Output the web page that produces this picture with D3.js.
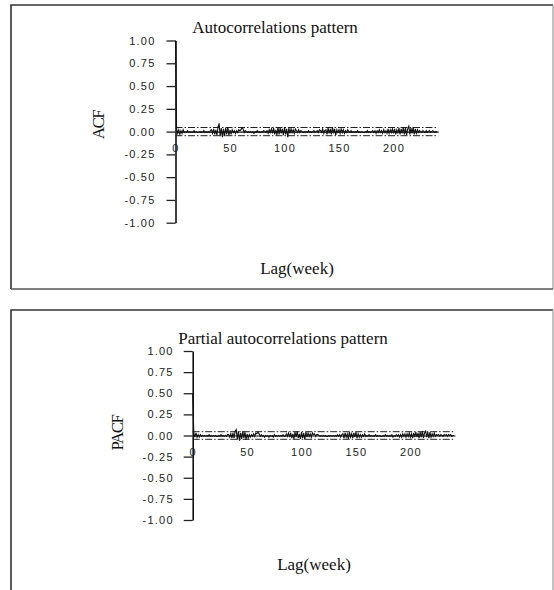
<!DOCTYPE html>
<html>
<head>
<meta charset="utf-8">
<script src="https://cdn.jsdelivr.net/npm/d3@7"></script>
<style>
  html, body { margin: 0; padding: 0; background: #fff; }
  svg { display: block; }
  .tick text { font-family: "Liberation Sans", Arial, sans-serif; font-size: 11px; fill: #222; letter-spacing: 1.2px; }
  .lbl { font-family: "Liberation Serif", "Times New Roman", serif; font-size: 17px; fill: #111; }
</style>
</head>
<body>
<svg id="chart" width="554" height="590"></svg>
<script>
// Autocorrelation values, lags 0..240
const acf = [
  1.00, 0.03, -0.02, 0.02, -0.03, 0.01, -0.02, 0.02, -0.01, 0.00,
  -0.01, 0.01, -0.01, 0.00, -0.01, 0.00, -0.01, 0.01, -0.01, 0.00,
  -0.01, -0.01, 0.00, -0.01, 0.00, -0.01, 0.01, -0.01, 0.00, -0.01,
  0.00, -0.01, 0.01, 0.02, -0.02, 0.03, -0.03, 0.02, -0.04, 0.05,
  0.09, -0.05, 0.04, -0.06, 0.03, -0.05, 0.04, -0.03, 0.05, -0.04,
  0.02, -0.03, 0.02, -0.01, 0.01, -0.02, 0.01, -0.01, 0.02, 0.01,
  0.02, 0.04, 0.03, -0.01, 0.01, 0.00, -0.01, 0.00, -0.01, 0.00,
  -0.01, 0.00, -0.02, 0.00, -0.01, 0.01, -0.01, 0.00, -0.01, 0.00,
  -0.01, 0.01, 0.00, -0.01, 0.01, -0.02, 0.02, -0.01, 0.03, -0.02,
  0.04, -0.03, 0.02, -0.04, 0.05, -0.03, 0.04, -0.02, 0.03, -0.04,
  0.05, -0.03, 0.03, -0.06, 0.04, -0.02, 0.03, -0.01, 0.02, -0.02,
  0.03, 0.01, -0.01, 0.02, -0.01, 0.01, 0.00, -0.01, 0.00, -0.01,
  0.00, -0.01, 0.01, -0.01, 0.00, -0.01, 0.00, 0.01, -0.01, 0.00,
  0.01, -0.01, 0.02, 0.01, -0.01, 0.03, -0.02, 0.01, 0.02, -0.03,
  0.04, -0.02, 0.03, -0.03, 0.05, -0.02, 0.03, -0.04, 0.02, -0.01,
  0.02, -0.02, 0.03, -0.01, 0.02, -0.02, 0.01, -0.01, 0.02, 0.00,
  -0.01, 0.01, -0.01, 0.00, -0.01, 0.00, -0.01, 0.01, -0.01, 0.00,
  -0.01, 0.00, -0.01, -0.01, 0.00, -0.01, 0.01, -0.01, 0.00, -0.01,
  0.00, 0.01, -0.01, 0.01, -0.02, 0.01, -0.01, 0.02, -0.01, 0.01,
  -0.02, 0.02, -0.01, 0.01, -0.02, 0.03, -0.02, 0.02, -0.01, 0.03,
  -0.02, 0.03, -0.03, 0.02, -0.02, 0.04, -0.03, 0.03, -0.02, 0.05,
  -0.03, 0.04, -0.04, 0.03, 0.06, -0.03, 0.04, -0.02, 0.05, -0.03,
  0.03, -0.02, 0.02, -0.01, 0.01, 0.00, -0.01, 0.01, 0.00, -0.01,
  0.01, -0.01, 0.00, 0.01, -0.01, 0.00, 0.01, 0.00, -0.01, 0.00,
  0.00
];

// Partial autocorrelation values, lags 0..240
const pacf = [
  0.50, 0.03, -0.02, 0.03, -0.02, 0.01, -0.02, 0.01, -0.01, 0.00,
  -0.01, 0.00, -0.01, 0.00, -0.01, 0.01, -0.01, 0.00, -0.01, 0.00,
  -0.01, 0.00, -0.01, -0.01, 0.00, -0.01, 0.01, -0.01, 0.00, -0.01,
  0.00, -0.01, 0.01, 0.01, -0.02, 0.02, -0.03, 0.03, -0.03, 0.05,
  0.07, -0.05, 0.05, -0.06, 0.03, -0.04, 0.05, -0.03, 0.04, -0.05,
  0.02, -0.03, 0.01, -0.02, 0.01, -0.01, 0.02, -0.01, 0.03, 0.02,
  0.04, 0.02, -0.01, 0.01, -0.01, 0.00, -0.02, 0.00, -0.01, 0.00,
  -0.02, 0.00, -0.01, 0.00, -0.02, 0.01, -0.01, 0.00, -0.01, 0.00,
  -0.01, 0.00, -0.01, 0.01, -0.01, -0.01, 0.02, -0.01, 0.03, -0.02,
  0.03, -0.03, 0.02, -0.04, 0.04, -0.02, 0.05, -0.03, 0.02, -0.04,
  0.04, -0.03, 0.03, -0.05, 0.04, -0.02, 0.03, -0.01, 0.02, -0.02,
  0.03, 0.01, 0.02, -0.01, 0.01, 0.01, 0.00, -0.01, 0.00, -0.01,
  0.00, -0.01, 0.00, -0.01, -0.01, 0.00, -0.01, 0.00, -0.01, 0.00,
  -0.01, 0.00, -0.01, 0.01, -0.01, 0.01, -0.02, 0.01, 0.02, -0.03,
  0.03, -0.02, 0.02, -0.04, 0.04, -0.02, 0.02, -0.03, 0.03, -0.02,
  0.04, -0.03, 0.02, -0.02, 0.01, -0.02, 0.01, -0.01, 0.02, -0.01,
  0.00, -0.01, 0.01, -0.01, 0.00, -0.01, 0.00, -0.01, 0.01, -0.01,
  0.00, -0.01, 0.00, -0.01, -0.01, 0.00, -0.01, 0.01, -0.01, 0.00,
  -0.01, 0.00, -0.01, 0.01, -0.02, 0.00, -0.01, 0.01, -0.01, 0.01,
  -0.02, 0.01, -0.02, 0.02, -0.01, 0.02, -0.02, 0.02, -0.01, 0.03,
  -0.02, 0.02, -0.03, 0.03, -0.02, 0.04, -0.02, 0.03, -0.03, 0.04,
  -0.02, 0.05, -0.03, 0.03, 0.05, -0.02, 0.04, -0.03, 0.04, -0.02,
  0.02, -0.01, 0.03, -0.01, 0.01, 0.00, 0.01, -0.01, 0.01, 0.00,
  -0.01, 0.01, 0.00, 0.01, -0.01, 0.01, 0.00, 0.01, -0.01, 0.00,
  0.00
];

const yTickValues = [1, 0.75, 0.5, 0.25, 0, -0.25, -0.5, -0.75, -1];
const xTickValues = [0, 50, 100, 150, 200];
const confBound = 0.045;   // approximate 95% significance limit
const maxLag = 241;

// fixed two decimals with a plain hyphen for negatives
const fmt2 = d => d.toFixed(2);

const svg = d3.select("#chart");

// Panel definitions: frame, plot geometry and text placement
const panels = [
  {
    values: acf, title: "Autocorrelations pattern", yLabel: "ACF",
    frame: {x: 11, y: 5, w: 542, h: 284},
    x0: 175.5, x1: 438.2, yTop: 40.5, yBot: 222.7,
    titlePos: [275, 33], yLabelPos: [98, 125], xLabelPos: [297, 274],
    tickPad: 11
  },
  {
    values: pacf, title: "Partial autocorrelations pattern", yLabel: "PACF",
    frame: {x: 11, y: 310, w: 542, h: 300},
    x0: 192.7, x1: 455.0, yTop: 351, yBot: 520,
    titlePos: [283, 344], yLabelPos: [117, 433], xLabelPos: [314, 570],
    tickPad: 10
  }
];

panels.forEach(p => {
  const g = svg.append("g");

  // frame around the panel (right edge drawn lighter)
  const f = p.frame;
  g.append("path")
    .attr("d", `M${f.x},${f.y + f.h}V${f.y}H${f.x + f.w}`)
    .attr("fill", "none").attr("stroke", "#333").attr("stroke-width", 1.6);
  g.append("path")
    .attr("d", `M${f.x + f.w},${f.y}V${f.y + f.h}`)
    .attr("fill", "none").attr("stroke", "#999").attr("stroke-width", 1.2);
  if (f.y + f.h < 590) {
    g.append("path")
      .attr("d", `M${f.x},${f.y + f.h}H${f.x + f.w}`)
      .attr("fill", "none").attr("stroke", "#555").attr("stroke-width", 1.4);
  }

  const x = d3.scaleLinear().domain([0, maxLag]).range([p.x0, p.x1]);
  const y = d3.scaleLinear().domain([-1, 1]).range([p.yBot, p.yTop]);

  // y axis
  const yAxis = g.append("g")
    .attr("transform", `translate(${p.x0},0)`)
    .call(d3.axisLeft(y).tickValues(yTickValues).tickFormat(fmt2)
      .tickSize(9).tickSizeOuter(0).tickPadding(p.tickPad));
  yAxis.select(".domain").attr("stroke", "#111").attr("stroke-width", 1.6);
  yAxis.selectAll(".tick line").attr("stroke", "#222").attr("stroke-width", 1.3);

  // x axis along zero
  const xAxis = g.append("g")
    .attr("transform", `translate(0,${y(0)})`)
    .call(d3.axisBottom(x).tickValues(xTickValues).tickFormat(d3.format("d"))
      .tickSize(0).tickSizeOuter(0).tickPadding(12.5));
  xAxis.select(".domain").attr("stroke", "#111").attr("stroke-width", 1.2);

  // significance bounds (dash-dot)
  [confBound, -confBound].forEach(b => {
    g.append("line")
      .attr("x1", x(0)).attr("x2", x(maxLag))
      .attr("y1", y(b)).attr("y2", y(b))
      .attr("stroke", "#222").attr("stroke-width", 1)
      .attr("stroke-dasharray", "7,2,1.5,2");
  });

  // correlation series
  const line = d3.line().x((d, i) => x(i)).y(d => y(d));
  g.append("path")
    .datum(p.values)
    .attr("d", line)
    .attr("fill", "none").attr("stroke", "#111").attr("stroke-width", 1.1);

  // titles and axis labels
  g.append("text").attr("class", "lbl")
    .attr("x", p.titlePos[0]).attr("y", p.titlePos[1])
    .attr("text-anchor", "middle").text(p.title);
  g.append("text").attr("class", "lbl")
    .attr("transform", `translate(${p.yLabelPos[0]},${p.yLabelPos[1]}) rotate(-90)`)
    .attr("text-anchor", "middle").attr("dy", "0.35em")
    .attr("letter-spacing", "-1.5").text(p.yLabel);
  g.append("text").attr("class", "lbl")
    .attr("x", p.xLabelPos[0]).attr("y", p.xLabelPos[1])
    .attr("text-anchor", "middle").text("Lag(week)");
});
</script>
</body>
</html>
